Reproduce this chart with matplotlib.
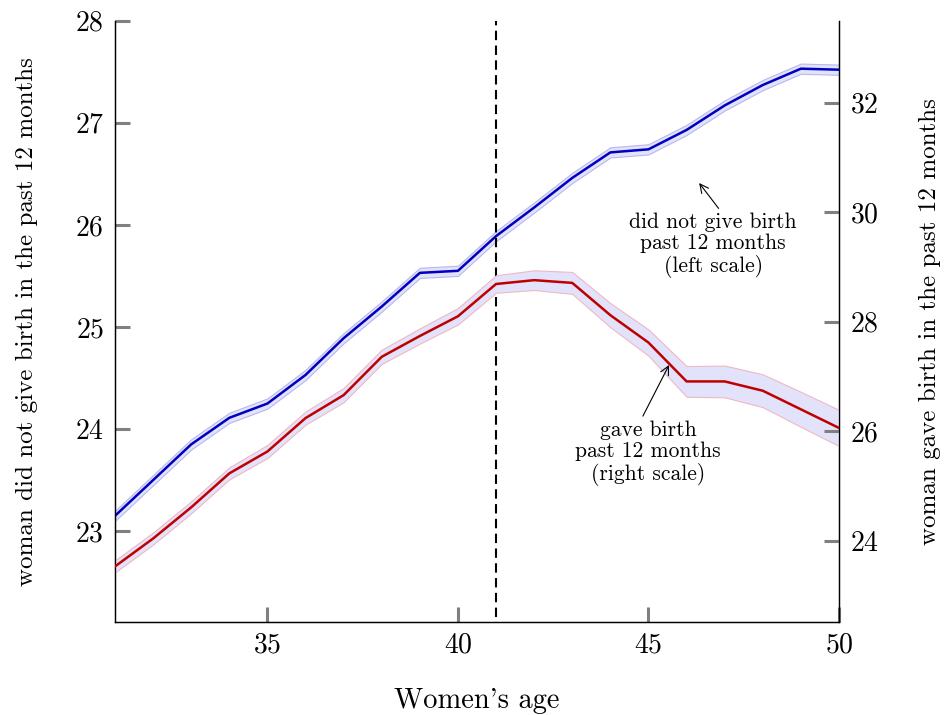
import matplotlib
matplotlib.use("Agg")
import matplotlib.pyplot as plt
import numpy as np

plt.rcParams['font.family'] = ['cmr10', 'DejaVu Serif']
plt.rcParams['axes.formatter.use_mathtext'] = True
plt.rcParams['mathtext.fontset'] = 'cm'

ages = list(range(31, 51))
no_birth = [23.15, 23.50, 23.85, 24.11, 24.25, 24.53, 24.89, 25.20, 25.53, 25.55,
            25.89, 26.17, 26.46, 26.71, 26.74, 26.93, 27.17, 27.37, 27.53, 27.52]
no_birth_ci = [0.05, 0.05, 0.05, 0.05, 0.05, 0.05, 0.05, 0.05, 0.05, 0.05,
               0.05, 0.05, 0.05, 0.05, 0.05, 0.05, 0.05, 0.05, 0.05, 0.05]
gave_birth = [23.53, 24.04, 24.61, 25.23, 25.63, 26.24, 26.66, 27.36, 27.74, 28.10,
              28.69, 28.76, 28.71, 28.12, 27.62, 26.91, 26.91, 26.74, 26.40, 26.06]
gave_birth_ci = [0.11, 0.11, 0.11, 0.11, 0.12, 0.12, 0.13, 0.13, 0.14, 0.15,
                 0.16, 0.18, 0.20, 0.22, 0.24, 0.28, 0.29, 0.30, 0.32, 0.33]
x_ticks = [35, 40, 45, 50]
left_ticks = [23, 24, 25, 26, 27, 28]
right_ticks = [24, 26, 28, 30, 32]
cutoff_age = 41

x = np.array(ages)
nb = np.array(no_birth); nbc = np.array(no_birth_ci)
gb = np.array(gave_birth); gbc = np.array(gave_birth_ci)

fig = plt.figure(figsize=(9.44, 7.15), dpi=100)
ax = fig.add_axes([115/944, 1-622/715, (839-115)/944, (622-20.7)/715])
ax2 = ax.twinx()

band = '#e2e2fa'
ax.fill_between(x, nb - nbc, nb + nbc, facecolor=band, edgecolor='#b8b8ee', linewidth=0.8, zorder=1)
ax.plot(x, nb, color='#0000c0', linewidth=1.8, zorder=3)
ax2.fill_between(x, gb - gbc, gb + gbc, facecolor=band, edgecolor='#f0b8c4', linewidth=0.8, zorder=1)
ax2.plot(x, gb, color='#c00000', linewidth=1.8, zorder=3)

ax.axvline(cutoff_age, ymin=0.008, ymax=1.0, color='black', linestyle=(0, (4.5, 2.6)), linewidth=1.5, zorder=4)

ax.set_xlim(31, 50)
ax.set_ylim(22.11, 28.0)
ax2.set_ylim(22.515, 33.5)

ax.set_xticks(x_ticks)
ax.set_yticks(left_ticks)
ax2.set_yticks(right_ticks)

for a in (ax, ax2):
    a.spines['top'].set_visible(False)
    for s in a.spines.values():
        s.set_linewidth(0.9)

tick_kw = dict(direction='in', length=11, width=2.2, color='#808080', labelsize=20, labelcolor='black')
ax.tick_params(axis='x', pad=7, **tick_kw)
ax.tick_params(axis='y', pad=8, **tick_kw)
ax2.tick_params(axis='y', pad=8, **tick_kw)

ax.set_xlabel("Women's age", fontsize=20.5, labelpad=21)
ax.set_ylabel("woman did not give birth in the past 12 months", fontsize=18)
ax2.set_ylabel("woman gave birth in the past 12 months", fontsize=18, rotation=90)
ax.yaxis.set_label_coords(-0.106, 0.5)
ax2.yaxis.set_label_coords(1.11, 0.5)

ax.annotate("did not give birth\npast 12 months\n(left scale)",
            xy=(46.33, 26.41), xytext=(46.7, 25.80), textcoords='data',
            ha='center', va='center', fontsize=15.5, multialignment='center',
            linespacing=1.12,
            arrowprops=dict(arrowstyle='->', color='black', lw=0.8, shrinkA=1, shrinkB=0,
                            relpos=(0.55, 1.0)))
ax2.annotate("gave birth\npast 12 months\n(right scale)",
             xy=(45.54, 27.21), xytext=(44.99, 25.60), textcoords='data',
             ha='center', va='center', fontsize=15.5, multialignment='center',
             linespacing=1.12,
             arrowprops=dict(arrowstyle='->', color='black', lw=0.8, shrinkA=1, shrinkB=0,
                             relpos=(0.45, 1.0)))

fig.savefig('out.png', dpi=100)
